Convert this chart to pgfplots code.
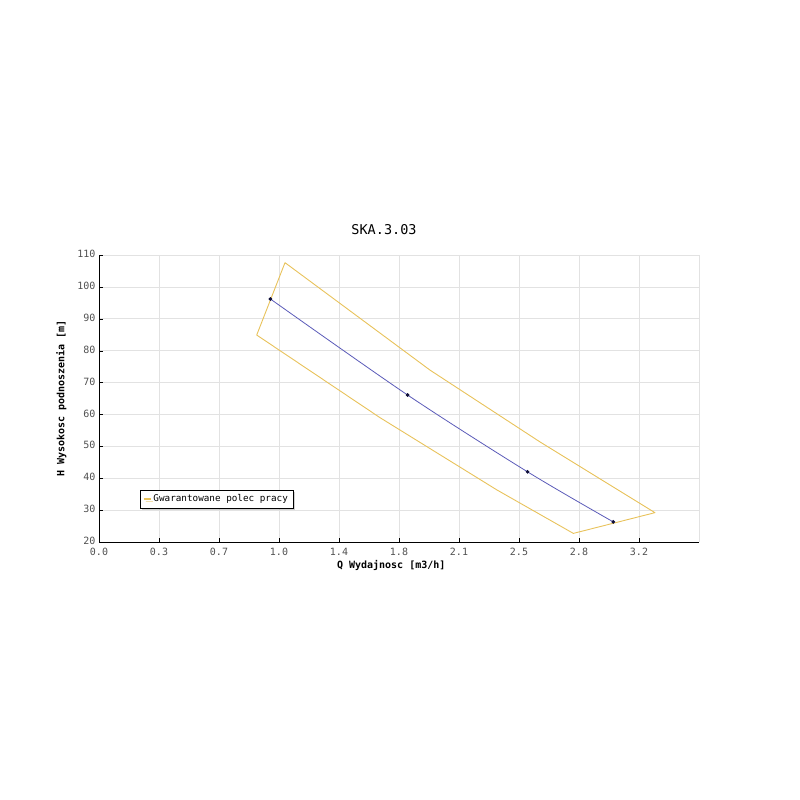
\documentclass[border=0pt]{standalone}
\usepackage{pgfplots}
\pgfplotsset{compat=1.18}
\usepackage{fontspec}
\setmainfont{DejaVu Sans Mono}
\usetikzlibrary{shadows}
\definecolor{envelope}{HTML}{E8C25A}
\definecolor{pumpline}{HTML}{5A5AB8}
\definecolor{pumpmark}{HTML}{10103A}
\definecolor{gridgray}{HTML}{E2E2E2}
\definecolor{ticktext}{HTML}{505050}
\begin{document}
\begin{tikzpicture}
\path[use as bounding box] (-99pt,-258pt) rectangle (701pt,542pt);
\begin{axis}[
    scale only axis,
    width=600pt, height=287pt,
    xmin=0, xmax=3.5, ymin=20, ymax=110,
    axis lines=left,
    axis line style={-, black},
    xtick={0,0.35,0.7,1.05,1.4,1.75,2.1,2.45,2.8,3.15},
    xticklabels={0.0,0.3,0.7,1.0,1.4,1.8,2.1,2.5,2.8,3.2},
    extra x ticks={3.5},
    extra x tick labels={},
    extra x tick style={major tick length=0pt},
    ytick={20,30,...,110},
    tick align=inside,
    major tick length=4pt,
    tick style={black},
    grid=major,
    grid style={gridgray, line width=0.6pt},
    ticklabel style={font=\fontsize{10}{11}\selectfont, text=ticktext},
    xticklabel style={yshift=-3pt},
    yticklabel style={yshift=1pt},
    /pgf/number format/assume math mode=true,
    title={SKA.3.03},
    title style={at={(0.475,1)}, yshift=11pt, font=\fontsize{13.5}{15}\selectfont},
    xlabel={\textbf{Q Wydajnosc [m3/h]}},
    ylabel={\textbf{H Wysokosc podnoszenia [m]}},
    label style={font=\fontsize{10}{12}\selectfont},
    xlabel style={at={(ticklabel cs:0.487)}, anchor=north, yshift=3pt},
    ylabel style={yshift=4pt},
    legend style={at={(0.068,0.118)}, anchor=south west,
        font=\fontsize{9.3}{11}\selectfont, draw=black, fill=white,
        drop shadow={shadow xshift=2pt, shadow yshift=-2pt, fill=gray!70},
        inner xsep=3pt, inner ysep=2.5pt},
    legend cell align=left,
    legend image code/.code={\draw[#1, line width=1.5pt] (0pt,0pt) -- (7pt,0pt);},
]
\addplot[envelope, line width=0.9pt, line join=round] coordinates {
    (1.085,107.6) (1.931,73.9) (2.572,51.4) (3.243,29.2)
    (2.767,22.7) (2.322,36.3) (1.639,59.0) (0.92,84.9) (1.085,107.6)
};
\addlegendentry{Gwarantowane polec pracy}
\addplot[pumpline, line width=0.8pt, smooth, forget plot,
    mark=*, mark size=1.4pt, mark options={pumpmark, fill=pumpmark}] coordinates {
    (1.0,96.2) (1.8,66.1) (2.5,42.0) (3.0,26.3)
};
\end{axis}
\end{tikzpicture}
\end{document}
